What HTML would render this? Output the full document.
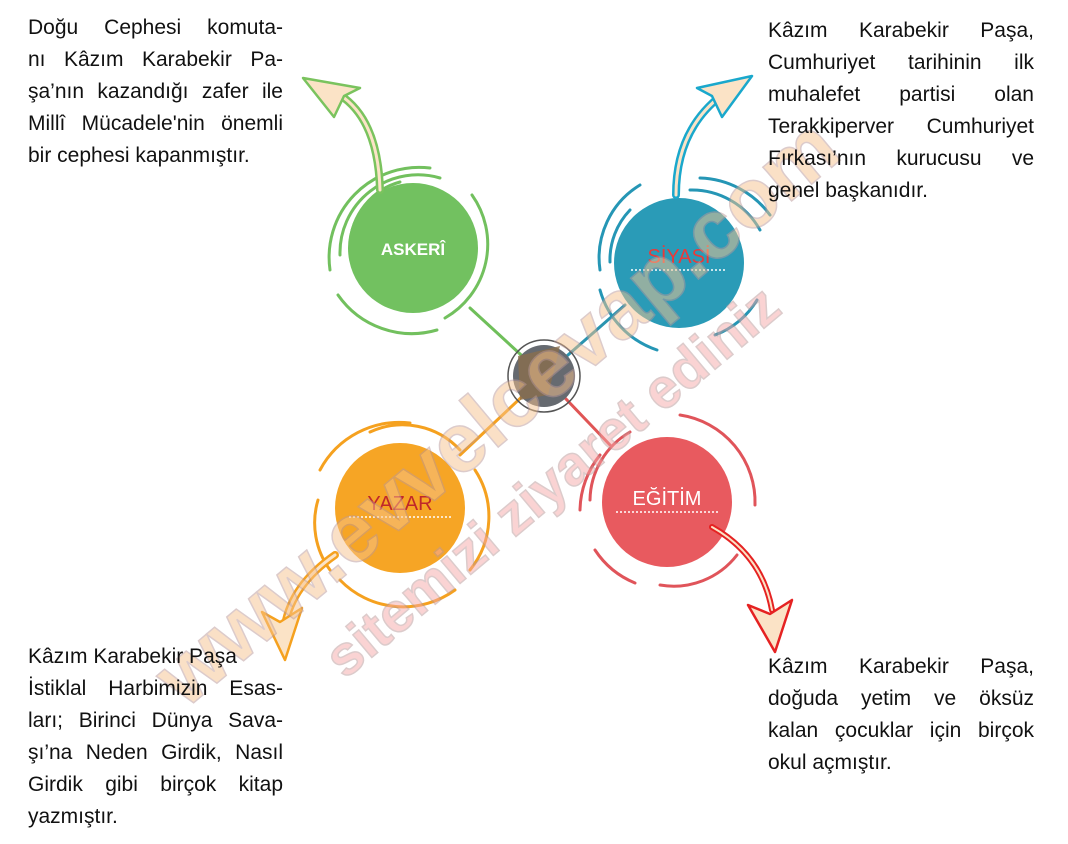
<!DOCTYPE html>
<html><head><meta charset="utf-8"><style>
body{margin:0;background:#fff;}
.w{position:relative;width:1068px;height:844px;overflow:hidden;font-family:"Liberation Sans",Arial,sans-serif;}
.t{position:absolute;font-size:21px;line-height:32px;color:#111;text-align:justify;text-align-last:justify;}
.t span{display:block;}
svg{position:absolute;left:0;top:0;}
</style></head><body><div class="w">
<svg width="1068" height="844" viewBox="0 0 1068 844">
<g fill="none" stroke-linecap="round">
<line x1="470" y1="308" x2="544" y2="376" stroke="#6fbf5a" stroke-width="3"/>
<line x1="625" y1="305" x2="544" y2="376" stroke="#2a94b0" stroke-width="3"/>
<line x1="460" y1="455" x2="544" y2="376" stroke="#f5a11f" stroke-width="3"/>
<line x1="610" y1="445" x2="544" y2="376" stroke="#e05555" stroke-width="3"/>
<g stroke="#72c05e" stroke-width="3">
<path d="M330 270 A90 90 0 0 1 430 168"/>
<path d="M340 255 A78 78 0 0 1 440 178"/>
<path d="M350 245 A68 68 0 0 1 400 182"/>
<path d="M472 195 A85 85 0 0 1 445 318"/>
<path d="M437 330 A90 90 0 0 1 338 295"/>
</g>
<circle cx="413" cy="248" r="65" fill="#72c160"/>
<g stroke="#2596b5" stroke-width="3">
<path d="M600 270 A85 85 0 0 1 640 185"/>
<path d="M610 262 A72 72 0 0 1 630 210"/>
<path d="M690 190 A78 78 0 0 1 760 230"/>
<path d="M700 178 A90 90 0 0 1 770 215"/>
<path d="M757 300 A82 82 0 0 1 715 335"/>
<path d="M657 350 A88 88 0 0 1 600 290"/>
</g>
<circle cx="679" cy="263" r="65" fill="#2a9bb7"/>
<g stroke="#f5a11f" stroke-width="3">
<path d="M320 470 A90 90 0 0 1 410 423"/>
<path d="M370 432 A78 78 0 0 1 460 450"/>
<path d="M475 470 A85 85 0 0 1 470 570"/>
<path d="M455 590 A88 88 0 0 1 340 580"/>
<path d="M330 570 A80 80 0 0 1 318 500"/>
</g>
<circle cx="400" cy="508" r="65" fill="#f6a525"/>
<g stroke="#e0545a" stroke-width="3">
<path d="M590 500 A80 80 0 0 1 630 432"/>
<path d="M680 415 A88 88 0 0 1 755 505"/>
<path d="M737 555 A80 80 0 0 1 660 585"/>
<path d="M635 583 A88 88 0 0 1 595 550"/>
<path d="M580 510 A90 90 0 0 1 600 455"/>
</g>
<circle cx="667" cy="502" r="65" fill="#e85a5f"/>
<circle cx="544" cy="376" r="36" stroke="#555" stroke-width="1.5"/>
<circle cx="544" cy="376" r="31" fill="#666a70" stroke="none"/>
<path d="M518 356 L560 346 L548 395 L520 400Z" fill="#8a6e4e" opacity="0.8" stroke="none"/>
<path d="M380 190 Q378 120 340 95" stroke="#7ac35e" stroke-width="8"/>
<path d="M380 190 Q378 120 340 95" stroke="#fbe3c6" stroke-width="3"/>
<polygon points="303,78 360,88 344,96 334,117" fill="#fbe3c6" stroke="#7ac35e" stroke-width="2.5" stroke-linejoin="round"/>
<path d="M676 195 Q676 130 722 95" stroke="#1aa8cc" stroke-width="8"/>
<path d="M676 195 Q676 130 722 95" stroke="#fbe3c6" stroke-width="3"/>
<polygon points="752,76 697,88 712,96 722,117" fill="#fbe3c6" stroke="#1aa8cc" stroke-width="2.5" stroke-linejoin="round"/>
<path d="M335 555 Q292 585 285 625" stroke="#f5a11f" stroke-width="8"/>
<path d="M335 555 Q292 585 285 625" stroke="#fbe3c6" stroke-width="3"/>
<polygon points="285,660 262,612 280,622 302,608" fill="#fbe3c6" stroke="#f5a11f" stroke-width="2.5" stroke-linejoin="round"/>
<path d="M712 527 Q762 555 772 610" stroke="#e52222" stroke-width="6"/>
<path d="M712 527 Q762 555 772 610" stroke="#fbe3c6" stroke-width="2"/>
<polygon points="775,652 748,605 770,614 792,600" fill="#fbe3c6" stroke="#e52222" stroke-width="2.5" stroke-linejoin="round"/>
</g>
<text x="413" y="255" fill="#fff" font-family="Liberation Sans, sans-serif" font-size="17" font-weight="bold" text-anchor="middle">ASKERÎ</text>
<text x="679" y="263" fill="#e83a3a" font-family="Liberation Sans, sans-serif" font-size="20" text-anchor="middle">SİYASİ</text>
<line x1="631" y1="270" x2="727" y2="270" stroke="#fff" stroke-width="1.5" stroke-dasharray="2,2"/>
<text x="400" y="510" fill="#c0282a" font-family="Liberation Sans, sans-serif" font-size="20" text-anchor="middle">YAZAR</text>
<line x1="349" y1="517" x2="451" y2="517" stroke="#fff" stroke-width="1.5" stroke-dasharray="2,2"/>
<text x="667" y="505" fill="#fff" font-family="Liberation Sans, sans-serif" font-size="20" text-anchor="middle">EĞİTİM</text>
<line x1="616" y1="512" x2="718" y2="512" stroke="#fff" stroke-width="1.5" stroke-dasharray="2,2"/>
<g opacity="0.5" font-family="Liberation Sans, sans-serif" font-weight="bold" stroke="#b99" stroke-width="1.5">
<text x="0" y="0" font-size="84" fill="#f7c38e" transform="translate(185,710) rotate(-40)">www.evvelcevap.com</text>
<text x="0" y="0" font-size="56" fill="#f6a8a8" transform="translate(345,680) rotate(-40)">sitemizi ziyaret ediniz</text>
</g>
</svg>
<div class="t" style="left:28px;top:12px;width:255px;"><span>Doğu Cephesi komuta-</span><span>nı Kâzım Karabekir Pa-</span><span>şa’nın kazandığı zafer ile</span><span>Millî Mücadele'nin önemli</span><span style="text-align-last:left">bir cephesi kapanmıştır.</span></div>
<div class="t" style="left:768px;top:15px;width:266px;"><span>Kâzım Karabekir Paşa,</span><span>Cumhuriyet tarihinin ilk</span><span>muhalefet partisi olan</span><span>Terakkiperver Cumhuriyet</span><span>Fırkası’nın kurucusu ve</span><span style="text-align-last:left">genel başkanıdır.</span></div>
<div class="t" style="left:28px;top:641px;width:255px;"><span style="text-align-last:left">Kâzım Karabekir Paşa</span><span>İstiklal Harbimizin Esas-</span><span>ları; Birinci Dünya Sava-</span><span>şı’na Neden Girdik, Nasıl</span><span>Girdik gibi birçok kitap</span><span style="text-align-last:left">yazmıştır.</span></div>
<div class="t" style="left:768px;top:651px;width:266px;"><span>Kâzım Karabekir Paşa,</span><span>doğuda yetim ve öksüz</span><span>kalan çocuklar için birçok</span><span style="text-align-last:left">okul açmıştır.</span></div>
</div></body></html>
